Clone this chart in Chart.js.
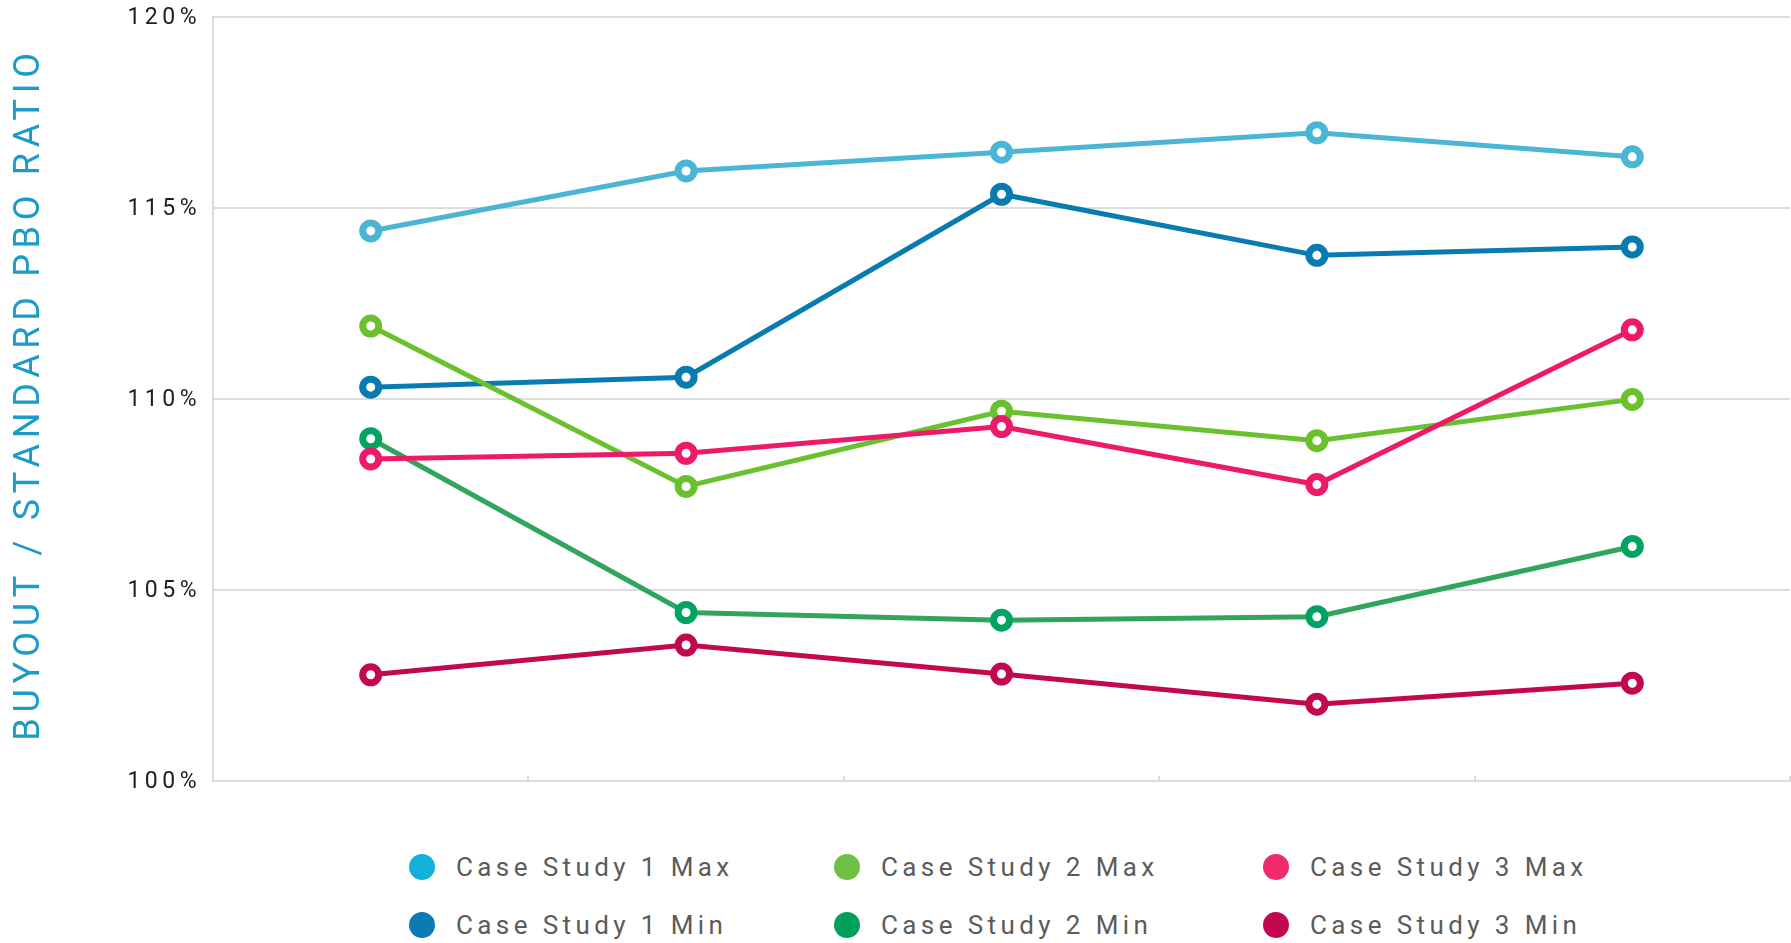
<!DOCTYPE html>
<html>
<head>
<meta charset="utf-8">
<title>Buyout / Standard PBO Ratio</title>
<script src="https://cdn.jsdelivr.net/npm/chart.js@4.4.0/dist/chart.umd.min.js"></script>
<style>
  html, body { margin: 0; padding: 0; background: #fff; }
  #wrap { position: relative; width: 1791px; height: 943px; overflow: hidden; }
  #ratioChart { position: absolute; left: 0; top: 0; }
  #legend {
    position: absolute; left: 409px; top: 838px;
    display: grid; grid-auto-flow: column;
    grid-template-rows: 58px 58px;
    grid-template-columns: 425px 429px auto;
    font-family: Roboto, sans-serif; font-size: 26px; letter-spacing: 4.4px; color: #5b5b5b;
  }
  .item { display: flex; align-items: center; height: 58px; white-space: nowrap; }
  .dot { width: 26px; height: 26px; border-radius: 50%; margin-right: 21px; flex: none; }
</style>
</head>
<body>
<div id="wrap">
  <canvas id="ratioChart" width="1791" height="800"></canvas>
  <div id="legend"></div>
</div>
<script>
// scenarios along the x axis (no labels shown)
const scenarios = ['A', 'B', 'C', 'D', 'E'];
const yTicks = [100, 105, 110, 115, 120];

const seriesNames = [
    'Case Study 1 Max', 'Case Study 1 Min',
    'Case Study 2 Max', 'Case Study 2 Min',
    'Case Study 3 Max', 'Case Study 3 Min'
];

const case1Max = [114.40, 115.97, 116.46, 116.97, 116.34];
const case1Min = [110.31, 110.57, 115.36, 113.76, 113.98];
const case2Max = [111.91, 107.71, 109.68, 108.91, 109.99];
const case2Min = [108.96, 104.41, 104.21, 104.30, 106.14];
const case3Max = [108.43, 108.58, 109.28, 107.76, 111.81];
const case3Min = [102.78, 103.56, 102.80, 102.01, 102.56];

const lineColors = ['#4bb5d6', '#087bb0', '#6ac12e', '#31a55c', '#ec1a68', '#c2094f'];
const pointColors = ['#4bb5d6', '#087bb0', '#6ac12e', '#00a462', '#ec1a68', '#c2094f'];
const legendDotColors = ['#13b0d7', '#0a7bb3', '#6ec044', '#00a05a', '#f02a6c', '#c4084f'];
// lower order is painted on top
const drawOrder = [5, 4, 3, 2, 0, 1];

const gridColor = '#dcdcdc';

function series(i, data) {
    return {
        label: seriesNames[i],
        data: data,
        borderColor: lineColors[i],
        backgroundColor: lineColors[i],
        borderWidth: 5,
        tension: 0,
        pointRadius: 8,
        pointHoverRadius: 8,
        pointBorderWidth: 7,
        pointBorderColor: pointColors[i],
        pointBackgroundColor: '#ffffff',
        order: drawOrder[i]
    };
}

// canvas letter spacing for tick labels, wider for the axis title
const spacedText = {
    id: 'spacedText',
    beforeLayout(chart) { chart.ctx.letterSpacing = '4.5px'; },
    beforeDraw(chart) { chart.ctx.letterSpacing = '4.5px'; },
    afterLayout(chart) {
        const y = chart.scales.y;
        if (y && !y._spaced) {
            const drawTitle = y.drawTitle;
            y.drawTitle = function () {
                const ctx = this.ctx;
                ctx.save();
                ctx.letterSpacing = '5.7px';
                ctx.translate(0, -5);
                drawTitle.call(this);
                ctx.restore();
            };
            y._spaced = true;
        }
    }
};

const chart = new Chart(document.getElementById('ratioChart'), {
    type: 'line',
    data: {
        labels: scenarios,
        datasets: [
            series(0, case1Max),
            series(1, case1Min),
            series(2, case2Max),
            series(3, case2Min),
            series(4, case3Max),
            series(5, case3Min)
        ]
    },
    options: {
        responsive: false,
        animation: false,
        layout: { autoPadding: false, padding: { top: 17, right: 1, bottom: 19, left: 0 } },
        plugins: {
            legend: { display: false },
            tooltip: { enabled: false }
        },
        scales: {
            x: {
                offset: true,
                grid: {
                    offset: true,
                    drawOnChartArea: false,
                    drawTicks: true,
                    tickLength: -5,
                    color: gridColor,
                    lineWidth: 2
                },
                border: { display: true, color: gridColor, width: 2 },
                ticks: { display: false },
                afterFit(scale) { scale.height = 0; }
            },
            y: {
                min: 100,
                max: 120,
                afterBuildTicks(scale) {
                    scale.ticks = yTicks.map(v => ({ value: v }));
                },
                ticks: {
                    callback: v => v + '%',
                    color: '#1e1e1e',
                    padding: 0,
                    labelOffset: 1.5,
                    font: { family: 'Roboto', size: 23 }
                },
                grid: {
                    color: gridColor,
                    lineWidth: 2,
                    drawTicks: true,
                    tickLength: 12,
                    tickColor: 'rgba(0,0,0,0)'
                },
                border: { display: true, color: gridColor, width: 2 },
                title: {
                    display: true,
                    text: 'BUYOUT / STANDARD PBO RATIO',
                    color: '#1b9cc8',
                    font: { family: 'Roboto', size: 36 },
                    padding: { top: 8, bottom: 0 }
                },
                afterFit(scale) { scale.width = 213; }
            }
        }
    },
    plugins: [spacedText]
});

// legend in three columns: Max above Min for each case study
const legendEl = document.getElementById('legend');
chart.data.datasets.forEach((ds, i) => {
    const item = document.createElement('div');
    item.className = 'item';
    const dot = document.createElement('span');
    dot.className = 'dot';
    dot.style.background = legendDotColors[i];
    const text = document.createElement('span');
    text.textContent = ds.label;
    item.appendChild(dot);
    item.appendChild(text);
    legendEl.appendChild(item);
});
</script>
</body>
</html>
